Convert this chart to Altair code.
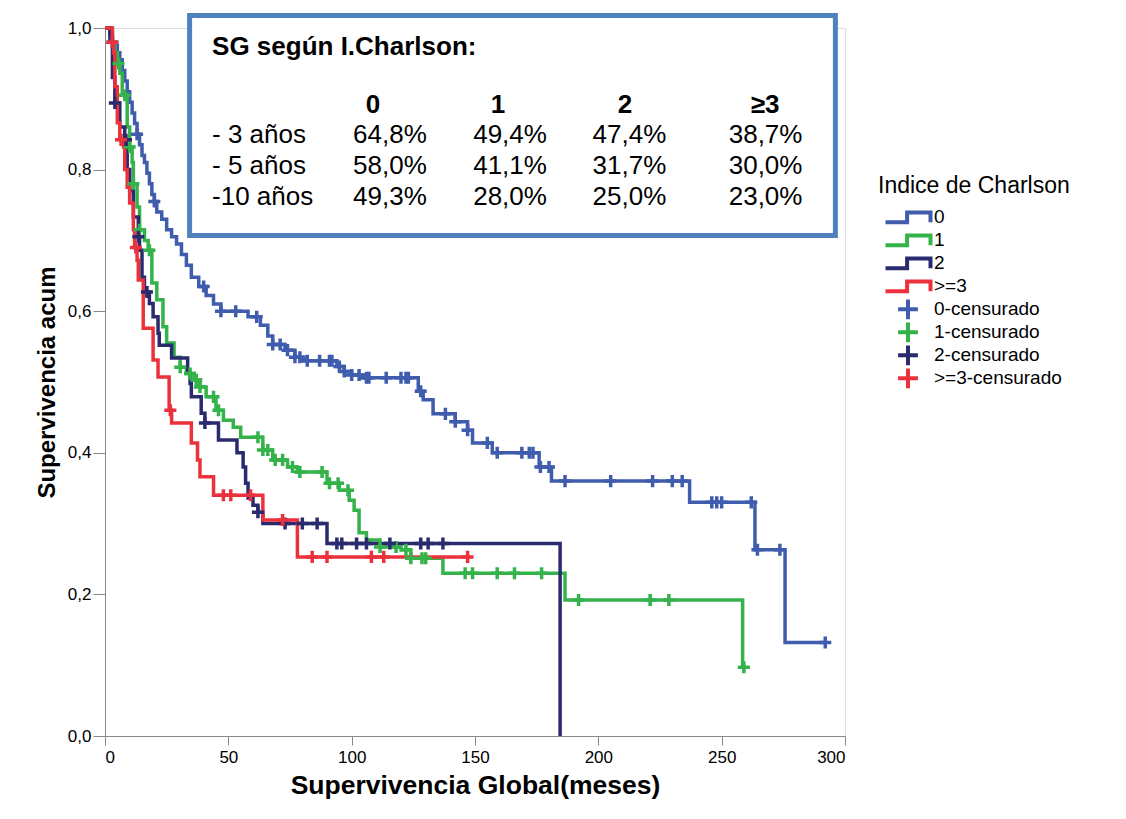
import altair as alt
import pandas as pd

# ---------------- data ----------------
GROUPS = ["0", "1", "2", ">=3"]
CENS_LABELS = ["0-censurado", "1-censurado", "2-censurado", ">=3-censurado"]
COLORS = ["#3F5CAD", "#34B34A", "#2A2B6E", "#EB323C"]

# group 0 (blue): step times (months) and survival after each step
t0 = [0, 2, 3, 4, 5, 6, 7, 8, 9, 10, 11, 12, 13, 14, 15, 16, 17, 18, 19, 20, 21, 23, 25, 27, 29,
      31, 33, 35, 38, 41, 44, 47, 58, 63, 66, 68, 73, 77, 80, 94, 97, 100, 104, 127, 129, 133,
      142, 147, 149, 157, 176, 181, 237, 263.5, 275.7, 292]
s0 = [1.0, 0.99, 0.98, 0.975, 0.965, 0.955, 0.94, 0.925, 0.91, 0.895, 0.88, 0.865, 0.85, 0.835,
      0.82, 0.81, 0.795, 0.78, 0.765, 0.755, 0.74, 0.73, 0.715, 0.705, 0.695, 0.68, 0.665, 0.648,
      0.635, 0.622, 0.61, 0.60, 0.592, 0.58, 0.565, 0.553, 0.545, 0.535, 0.53, 0.522, 0.515, 0.51,
      0.506, 0.487, 0.475, 0.455, 0.444, 0.432, 0.414, 0.40, 0.38, 0.36, 0.33, 0.263, 0.132, 0.132]
c0 = [3, 13, 20, 40, 47, 53, 61.5, 68, 71, 74, 77, 79, 82, 87, 91, 92, 95, 97, 100, 103, 106,
      107, 114, 120, 122, 123, 128, 138, 142, 147, 155, 159, 169, 172, 173.5, 176.5, 180, 186.5,
      205, 222, 230, 234, 246, 248, 250, 262, 264.5, 273.6, 292]

# group 1 (green)
t1 = [0, 3, 4, 5, 6, 7, 9, 10, 11, 11.5, 13, 14, 16, 17.5, 19, 21, 23.5, 25, 28, 30.5, 33, 36,
      38.5, 41, 45, 48, 52, 55, 64, 68, 74, 78, 90, 95, 99, 101, 103, 106, 111.5, 120, 124, 137,
      186.5, 258.5]
s1 = [1.0, 0.98, 0.965, 0.95, 0.936, 0.905, 0.86, 0.832, 0.81, 0.78, 0.747, 0.715, 0.70, 0.686,
      0.64, 0.616, 0.578, 0.555, 0.535, 0.521, 0.512, 0.503, 0.493, 0.479, 0.46, 0.446, 0.436,
      0.422, 0.404, 0.39, 0.38, 0.373, 0.357, 0.347, 0.333, 0.319, 0.287, 0.277, 0.267, 0.263,
      0.251, 0.23, 0.192, 0.097]
c1 = [5.5, 8, 10, 11.5, 14, 18, 30.5, 34.5, 37, 38.5, 44, 46, 62, 64, 66, 69, 72, 76, 79, 88, 91,
      94.5, 98.5, 111.5, 118, 122, 124, 128.5, 130, 146, 149, 159, 166, 177, 192, 221, 228.6, 259]

# group 2 (navy)
t2 = [0, 2, 3, 4, 6, 8, 9, 10, 11.5, 13.5, 14, 15, 16, 18, 19.5, 21.5, 22, 27, 33.5, 34.5, 35,
      39, 40.5, 46, 53.5, 56, 57, 58, 60, 62, 64, 90, 184.5]
s2 = [1.0, 0.98, 0.93, 0.894, 0.86, 0.842, 0.80, 0.77, 0.733, 0.705, 0.686, 0.648, 0.627, 0.611,
      0.592, 0.569, 0.552, 0.534, 0.513, 0.498, 0.479, 0.456, 0.442, 0.418, 0.40, 0.38, 0.357,
      0.336, 0.326, 0.316, 0.30, 0.272, 0.0]
c2 = [4, 8.5, 13.5, 17, 40.5, 62, 73, 80, 86, 94, 96, 102, 106, 115.5, 128, 131, 137]

# group >=3 (red)
t3 = [0, 3, 3.5, 4, 5, 6, 7.5, 8, 9, 10, 11.5, 12, 13, 13.5, 15.5, 19.5, 21.5, 26, 27, 35, 37.5,
      38.5, 44, 64, 78, 148]
s3 = [1.0, 0.98, 0.965, 0.917, 0.866, 0.842, 0.832, 0.80, 0.775, 0.753, 0.715, 0.69, 0.672,
      0.644, 0.576, 0.531, 0.507, 0.46, 0.442, 0.414, 0.39, 0.366, 0.34, 0.305, 0.253, 0.253]
c3 = [3, 6.5, 12.5, 26.5, 48, 51, 59, 72, 84, 90, 108, 113, 147]

# inset table texts
TABLE_TITLE = "SG según I.Charlson:"
COL_HEADERS = ["0", "1", "2", "≥3"]
ROW_LABELS = ["- 3 años", "- 5 años", "-10 años"]
TABLE_VALUES = [["64,8%", "49,4%", "47,4%", "38,7%"],
                ["58,0%", "41,1%", "31,7%", "30,0%"],
                ["49,3%", "28,0%", "25,0%", "23,0%"]]

# ---------------- layout constants (data units) ----------------
BOX_X, BOX_X2, BOX_Y, BOX_Y2 = 34.3, 296.1, 0.7069, 1.0177
TITLE_X, TITLE_Y = 43.4, 0.962
HEADER_X = [108.6, 159.3, 210.8, 267.6]
HEADER_Y = 0.880
VALUE_X = [115.5, 164.2, 212.6, 267.8]
ROW_Y = [0.8376, 0.7938, 0.750]
ROW_LABEL_X = 43.4

FONT = "Liberation Sans"
STEP_PATH = "M-2.5,0.55 H-0.1 V-0.55 H2.5 V0.55"
PLUS_PATH = "M-1.1,0 H1.1 M0,-1.1 V1.1"

# ---------------- build tables ----------------
curves = [(t0, s0, c0), (t1, s1, c1), (t2, s2, c2), (t3, s3, c3)]


def surv_at(times, surv, t):
    v = surv[0]
    for tt, ss in zip(times, surv):
        if tt <= t:
            v = ss
        else:
            break
    return v


line_rows, cens_rows = [], []
for g, cl, (ts, ss, cs) in zip(GROUPS, CENS_LABELS, curves):
    for i, (t, s) in enumerate(zip(ts, ss)):
        line_rows.append({"grp": g, "t": t, "s": s, "o": i})
    for t in cs:
        cens_rows.append({"grp": cl, "t": t, "s": surv_at(ts, ss, t)})
lines_df = pd.DataFrame(line_rows)
cens_df = pd.DataFrame(cens_rows)

txt_rows = []
for x, h in zip(HEADER_X, COL_HEADERS):
    txt_rows.append({"x": x, "y": HEADER_Y, "label": h, "kind": "head"})
for y, rl, vals in zip(ROW_Y, ROW_LABELS, TABLE_VALUES):
    for x, v in zip(VALUE_X, vals):
        txt_rows.append({"x": x, "y": y, "label": v, "kind": "val"})
txt_df = pd.DataFrame(txt_rows)
rowlab_df = pd.DataFrame({"x": [ROW_LABEL_X] * 3, "y": ROW_Y, "label": ROW_LABELS})
title_df = pd.DataFrame({"x": [TITLE_X], "y": [TITLE_Y], "label": [TABLE_TITLE]})
box_df = pd.DataFrame({"x": [BOX_X], "x2": [BOX_X2], "y": [BOX_Y], "y2": [BOX_Y2]})

# ---------------- scales / legend ----------------
DOMAIN = GROUPS + CENS_LABELS
color_scale = alt.Scale(domain=DOMAIN, range=COLORS + COLORS)
shape_scale = alt.Scale(domain=DOMAIN, range=[STEP_PATH] * 4 + [PLUS_PATH] * 4)
legend = alt.Legend(
    title="Indice de Charlson", orient="none", legendX=773, legendY=147,
    titleFontSize=23, titleFontWeight="normal", titleFont=FONT, titleColor="#000000",
    titleLimit=400, labelLimit=300,
    labelFontSize=19, labelFont=FONT, labelColor="#000000",
    symbolSize=324, symbolStrokeWidth=4, symbolOffset=19, labelOffset=15,
    clipHeight=22.7, rowPadding=0, titlePadding=8, symbolOpacity=1,
)

x_enc = alt.X("t:Q", scale=alt.Scale(domain=[0, 300], nice=False),
              axis=alt.Axis(values=[0, 50, 100, 150, 200, 250, 300], title="Supervivencia Global(meses)",
                            grid=False, labelFontSize=17, tickSize=9, labelPadding=4,
                            titleFontSize=26.5, titleFontWeight="bold", titlePadding=7))
y_enc = alt.Y("s:Q", scale=alt.Scale(domain=[0, 1], nice=False),
              axis=alt.Axis(values=[0, 0.2, 0.4, 0.6, 0.8, 1.0], title="Supervivencia acum",
                            grid=False, labelFontSize=17, tickSize=12, labelPadding=2,
                            labelExpr="replace(format(datum.value, '.1f'), '.', ',')",
                            titleFontSize=24, titleFontWeight="bold", titlePadding=8))

lines = alt.Chart(lines_df).mark_line(interpolate="step-after", strokeWidth=3.5).encode(
    x=x_enc, y=y_enc,
    color=alt.Color("grp:N", scale=color_scale, legend=legend),
    order="o:Q",
)

cens = alt.Chart(cens_df).mark_point(filled=False, strokeWidth=3.5, size=120, opacity=1).encode(
    x="t:Q", y="s:Q",
    color=alt.Color("grp:N", scale=color_scale, legend=legend),
    shape=alt.Shape("grp:N", scale=shape_scale, legend=legend),
)

box = alt.Chart(box_df).mark_rect(fill="white", stroke="#4F81BD", strokeWidth=5).encode(
    x="x:Q", x2="x2:Q", y="y:Q", y2="y2:Q")

title_txt = alt.Chart(title_df).mark_text(align="left", baseline="alphabetic", fontSize=26,
                                          fontWeight="bold", font=FONT, color="black").encode(
    x="x:Q", y="y:Q", text="label:N")

rowlab_txt = alt.Chart(rowlab_df).mark_text(align="left", baseline="alphabetic", fontSize=26,
                                            font=FONT, color="black").encode(
    x="x:Q", y="y:Q", text="label:N")

head_txt = alt.Chart(txt_df).transform_filter("datum.kind == 'head'").mark_text(
    align="center", baseline="alphabetic", fontSize=26, fontWeight="bold", font=FONT,
    color="black").encode(x="x:Q", y="y:Q", text="label:N")

val_txt = alt.Chart(txt_df).transform_filter("datum.kind == 'val'").mark_text(
    align="center", baseline="alphabetic", fontSize=26, font=FONT, color="black").encode(
    x="x:Q", y="y:Q", text="label:N")

chart = alt.layer(lines, cens, box, title_txt, rowlab_txt, head_txt, val_txt).properties(
    width=740, height=708,
    padding={"left": 105, "top": 28, "right": 281, "bottom": 83},
    autosize=alt.AutoSizeParams(type="none"),
    background="white",
).configure_view(fill="#F0F0F0", stroke=None).configure_axis(
    domainColor="black", tickColor="black", labelColor="black", titleColor="black",
    labelFont=FONT, titleFont=FONT, domainWidth=1, tickWidth=1,
).configure(font=FONT)

chart.save("out.html", embed_options={"renderer": "svg", "actions": False})
